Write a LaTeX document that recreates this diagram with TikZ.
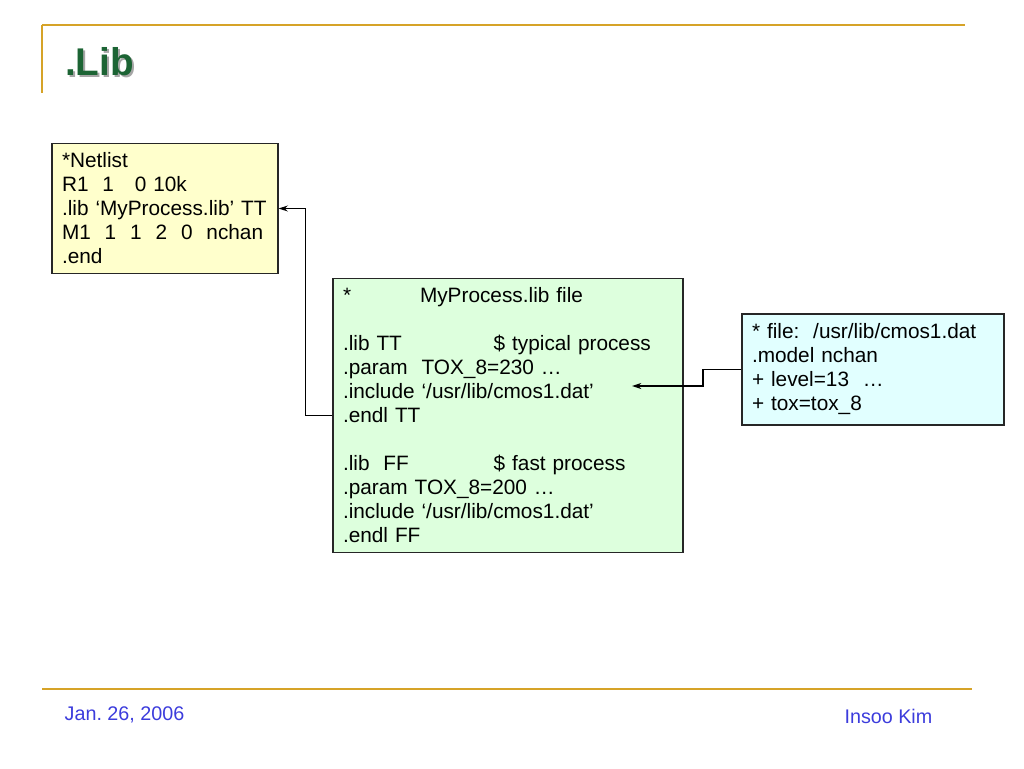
\documentclass[tikz,border=0pt]{standalone}
\usepackage{fontspec}
\setmainfont{Liberation Sans}
\usetikzlibrary{arrows.meta}
\definecolor{gold}{RGB}{214,163,40}
\definecolor{titlegreen}{RGB}{28,100,52}
\definecolor{netyellow}{RGB}{255,255,204}
\definecolor{libgreen}{RGB}{221,255,221}
\definecolor{datcyan}{RGB}{225,255,255}
\definecolor{footblue}{RGB}{60,60,220}
\tikzset{
  box/.style={draw=black!85, line width=0.9pt, align=left, inner xsep=7.5pt, inner ysep=0pt,
    font=\fontsize{15.6}{18}\selectfont},
  arr/.style={line width=1pt, -{Stealth[length=7pt,width=4.5pt]}},
  rule/.style={gold, line width=1.8pt},
  foot/.style={text=footblue, font=\fontsize{14.8}{17}\selectfont}
}
\begin{document}
\begin{tikzpicture}[x=0.75pt,y=-0.75pt]
\useasboundingbox (0,0) rectangle (1024,768);
% header / footer rules
\draw[rule] (42,25) -- (965,25);
\draw[rule] (42,25) -- (42,93);
\draw[rule] (42,689) -- (972,689);
% title with shadow
\node[anchor=west, text=black!35, font=\bfseries\fontsize{29}{33}\selectfont] (tshadow) at (62.5,64) {.Lib};
\node[anchor=west, text=titlegreen, font=\bfseries\fontsize{29}{33}\selectfont] (title) at (60.5,62) {.Lib};
% boxes
\node[box, fill=netyellow, minimum width=169.5pt, minimum height=97.5pt, text width=154.5pt] (net) at (165,208.5)
 {*Netlist\\R1\ \ 1\ \ \ 0 10k\\.lib ‘MyProcess.lib’ TT\\M1\ \ 1\ \ 1\ \ 2\ \ 0\ \ nchan\\.end};
\node[box, fill=libgreen, minimum width=262.5pt, minimum height=205.5pt, text width=247.5pt] (lib) at (508,415.5)
 {\makebox[57.75pt][l]{*}MyProcess.lib file\\[18pt]
  \makebox[113pt][l]{.lib TT}\$ typical process\\
  .param\ \ TOX\_8=230 …\\
  .include ‘/usr/lib/cmos1.dat’\\
  .endl TT\\[18pt]
  \makebox[113pt][l]{.lib\ \ FF}\$ fast process\\
  .param TOX\_8=200 …\\
  .include ‘/usr/lib/cmos1.dat’\\
  .endl FF};
\node[box, fill=datcyan, minimum width=196.5pt, minimum height=83.25pt, text width=181.5pt] (dat) at (873,369.5)
 {* file:\ \ /usr/lib/cmos1.dat\\.model nchan\\+ level=13\ \ …\\+ tox=tox\_8};
% connectors
\draw[arr] (lib.west) -- ++(-27,0) |- (net.east);
\coordinate (inc) at (632,386);
\draw[arr] (dat.west) -- (703,369.5) -- (703,386) -- (inc);
% footer
\node[foot, anchor=west] (date) at (60,715) {Jan.\ 26, 2006};
\node[foot, anchor=east] (author) at (937,716) {Insoo Kim};
\end{tikzpicture}
\end{document}
